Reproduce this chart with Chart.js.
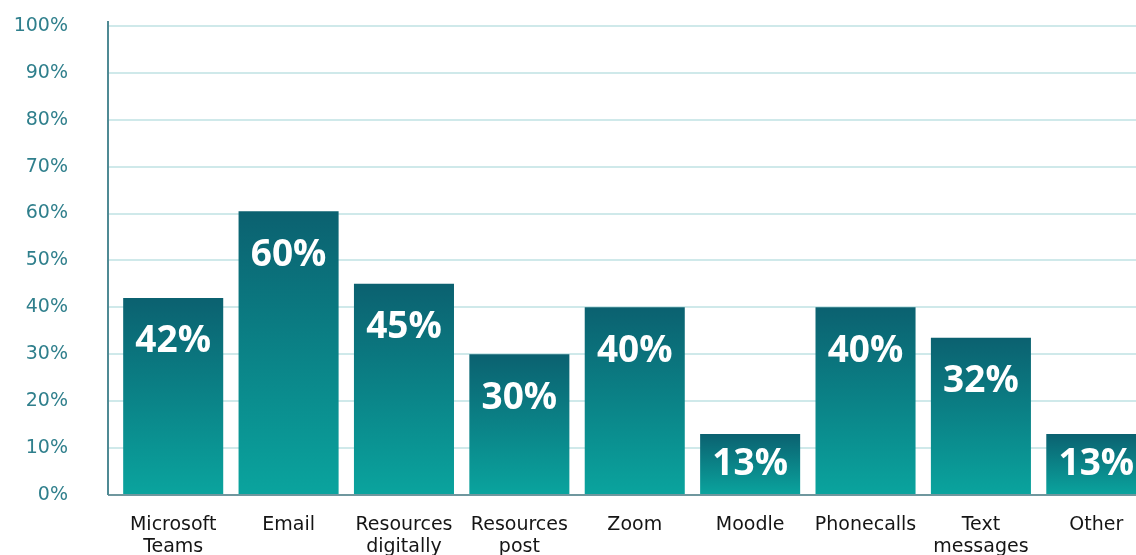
<!DOCTYPE html>
<html>
<head>
<meta charset="utf-8">
<script src="https://cdn.jsdelivr.net/npm/chart.js@4"></script>
<style>
  html, body { margin: 0; padding: 0; background: #fff; overflow: hidden; }
  #wrap { width: 1136px; height: 555px; overflow: hidden; position: relative; }
  #chart { position: absolute; left: 0; top: -33px; }
</style>
</head>
<body>
<div id="wrap"><canvas id="chart" width="1154" height="610"></canvas></div>
<script>
// channels used
const categories = [
  ['Microsoft', 'Teams'], 'Email', ['Resources', 'digitally'], ['Resources', 'post'],
  'Zoom', 'Moodle', 'Phonecalls', ['Text', 'messages'], 'Other'
];
// bar heights as drawn in the picture
const percents = [42, 60.5, 45, 30, 40, 13, 40, 33.5, 13];
// the printed labels (Text messages bar is drawn a bit taller than its label)
const printed = ['42%', '60%', '45%', '30%', '40%', '13%', '40%', '32%', '13%'];
const yTicks = [0, 10, 20, 30, 40, 50, 60, 70, 80, 90, 100];

const axisX = 108; // y axis line sits a little left of the first bar gap

// gradient per bar, dark at the top
function barFill(ctx) {
  const chart = ctx.chart;
  if (!chart.chartArea || ctx.type !== 'data') return '#0a8a8e';
  const y = chart.scales.y;
  const top = y.getPixelForValue(ctx.parsed.y);
  const bottom = y.getPixelForValue(0);
  const g = chart.ctx.createLinearGradient(0, top, 0, bottom);
  g.addColorStop(0, '#0b6170');
  g.addColorStop(1, '#0aa49e');
  return g;
}

// grid + axis lines starting at axisX
const frame = {
  id: 'frame',
  beforeDatasetsDraw(chart) {
    const c = chart.ctx, y = chart.scales.y, a = chart.chartArea;
    c.save();
    c.strokeStyle = '#cfe9ea';
    c.lineWidth = 2;
    yTicks.forEach(function(v) {
      if (v === 0) return;
      const py = Math.round(y.getPixelForValue(v));
      c.beginPath(); c.moveTo(axisX, py); c.lineTo(a.right, py); c.stroke();
    });
    c.restore();
  },
  afterDatasetsDraw(chart) {
    const c = chart.ctx, y = chart.scales.y, a = chart.chartArea;
    const y0 = Math.round(y.getPixelForValue(0));
    c.save();
    c.lineWidth = 2;
    c.strokeStyle = '#6f979e';
    c.beginPath(); c.moveTo(axisX, y0); c.lineTo(a.right, y0); c.stroke();
    c.strokeStyle = '#4f8a94';
    c.beginPath(); c.moveTo(axisX, a.top - 5); c.lineTo(axisX, y0); c.stroke();
    c.restore();
  }
};

const valueLabels = {
  id: 'valueLabels',
  afterDatasetsDraw(chart) {
    const c = chart.ctx;
    const meta = chart.getDatasetMeta(0);
    c.save();
    c.fillStyle = '#ffffff';
    c.font = 'bold 37px "Open Sans", sans-serif';
    c.textAlign = 'center';
    c.textBaseline = 'middle';
    meta.data.forEach(function(bar, i) {
      const mid = (bar.y + bar.base) / 2;
      const ty = Math.min(bar.y + 44, mid);
      c.fillText(printed[i], bar.x, ty);
    });
    c.restore();
  }
};

new Chart(document.getElementById('chart'), {
  type: 'bar',
  data: {
    labels: categories,
    datasets: [{
      data: percents,
      backgroundColor: barFill,
      borderWidth: 0,
      categoryPercentage: 1,
      barPercentage: 0.867
    }]
  },
  options: {
    responsive: false,
    animation: false,
    layout: { padding: { top: 14, left: 0, right: 0, bottom: 0 } },
    plugins: { legend: { display: false }, tooltip: { enabled: false } },
    scales: {
      x: {
        grid: { display: false, drawTicks: false },
        border: { display: false },
        ticks: {
          color: '#151515',
          padding: 19,
          maxRotation: 0,
          autoSkip: false,
          font: { family: '"DejaVu Sans", sans-serif', size: 19, lineHeight: 1.16 }
        }
      },
      y: {
        min: 0,
        max: 100,
        afterFit: function(axis) { axis.width = 115.5; },
        afterBuildTicks: function(axis) {
          axis.ticks = yTicks.map(function(v) { return { value: v }; });
        },
        grid: { display: false, drawTicks: false },
        border: { display: false },
        ticks: {
          color: '#2f7f8c',
          padding: 47.5,
          font: { family: '"DejaVu Sans", sans-serif', size: 19 },
          callback: function(v) { return v + '%'; }
        }
      }
    }
  },
  plugins: [frame, valueLabels]
});
</script>
</body>
</html>
